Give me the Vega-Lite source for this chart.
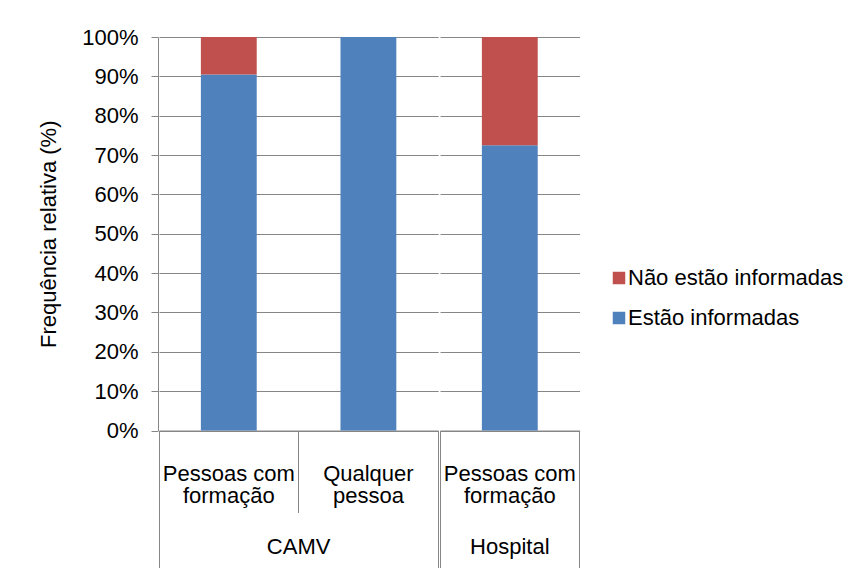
{
  "$schema": "https://vega.github.io/schema/vega-lite/v6.json",
  "background": "white",
  "padding": {"left": 37, "top": 26, "right": 0, "bottom": 0},
  "data": {
    "values": [
      {"local": "CAMV", "categoria": "CAMV: Pessoas com formação", "situacao": "Estão informadas", "freq": 90.5},
      {"local": "CAMV", "categoria": "CAMV: Pessoas com formação", "situacao": "Não estão informadas", "freq": 9.5},
      {"local": "CAMV", "categoria": "CAMV: Qualquer pessoa", "situacao": "Estão informadas", "freq": 100},
      {"local": "CAMV", "categoria": "CAMV: Qualquer pessoa", "situacao": "Não estão informadas", "freq": 0},
      {"local": "Hospital", "categoria": "Hospital: Pessoas com formação", "situacao": "Estão informadas", "freq": 72.5},
      {"local": "Hospital", "categoria": "Hospital: Pessoas com formação", "situacao": "Não estão informadas", "freq": 27.5}
    ]
  },
  "facet": {
    "column": {
      "field": "local",
      "type": "nominal",
      "sort": ["CAMV", "Hospital"],
      "header": {
        "title": null,
        "labelOrient": "bottom",
        "labelPadding": -31,
        "labelFontSize": 22,
        "labelFont": "Liberation Sans",
        "labelColor": "black"
      }
    }
  },
  "spacing": 0,
  "resolve": {"scale": {"x": "independent"}},
  "spec": {
    "width": {"step": 139.6},
    "height": 393.5,
    "mark": {"type": "bar", "width": {"band": 0.4}},
    "encoding": {
      "x": {
        "field": "categoria",
        "type": "nominal",
        "sort": null,
        "scale": {"paddingInner": 0, "paddingOuter": 0},
        "axis": {
          "title": null,
          "domainColor": "#868686",
          "bandPosition": 1,
          "tickExtra": true,
          "tickColor": "#868686",
          "tickSize": {"condition": {"test": "datum.value === 'CAMV: Pessoas com formação'", "value": 82}, "value": 137},
          "labelPadding": {"condition": {"test": "datum.value === 'CAMV: Pessoas com formação'", "value": -49}, "value": -104},
          "labelExpr": "datum.label ? [slice(split(datum.label, ': ')[1], 0, lastindexof(split(datum.label, ': ')[1], ' ')), slice(split(datum.label, ': ')[1], lastindexof(split(datum.label, ': ')[1], ' ') + 1)] : ''",
          "labelAngle": 0,
          "labelFontSize": 22,
          "labelLineHeight": 22,
          "labelColor": "black"
        }
      },
      "y": {
        "field": "freq",
        "type": "quantitative",
        "stack": "normalize",
        "scale": {"domain": [0, 1]},
        "axis": {
          "title": "Frequência relativa (%)",
          "values": [0, 0.1, 0.2, 0.3, 0.4, 0.5, 0.6, 0.7, 0.8, 0.9, 1],
          "format": ".0%",
          "grid": true,
          "gridColor": "#868686",
          "domainColor": "#868686",
          "tickColor": "#868686",
          "tickSize": 7,
          "labelPadding": 13,
          "labelFontSize": 22,
          "labelColor": "black",
          "titleFontSize": 22,
          "titleFontWeight": "normal",
          "titleColor": "black",
          "titlePadding": 21
        }
      },
      "color": {
        "field": "situacao",
        "type": "nominal",
        "scale": {"domain": ["Não estão informadas", "Estão informadas"], "range": ["#C0504D", "#4F81BD"]},
        "legend": {
          "title": null,
          "orient": "none",
          "legendX": 449,
          "legendY": 230,
          "labelFontSize": 22,
          "labelColor": "black",
          "labelLimit": 400,
          "symbolType": "square",
          "symbolSize": 156,
          "symbolStrokeWidth": 0,
          "rowPadding": 18,
          "labelOffset": -2
        }
      },
      "order": {"field": "situacao", "sort": "ascending"}
    }
  },
  "config": {
    "view": {"stroke": null},
    "font": "Liberation Sans"
  }
}
